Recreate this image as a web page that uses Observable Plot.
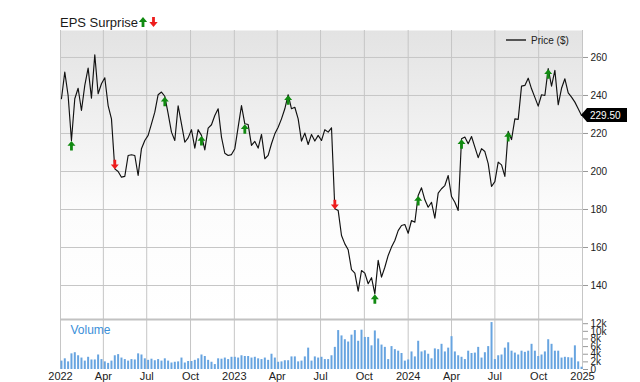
<!DOCTYPE html>
<html><head><meta charset="utf-8">
<script src="https://cdn.jsdelivr.net/npm/d3@7"></script>
<script src="https://cdn.jsdelivr.net/npm/@observablehq/plot@0.6"></script>
<style>
html,body{margin:0;padding:0;background:#fff;}
#wrap{position:relative;width:640px;height:382px;overflow:hidden;font-family:"Liberation Sans",Arial,sans-serif;}
#wrap svg.plotsvg{position:absolute;left:0;}
#title{position:absolute;left:60px;top:16px;font-size:13px;line-height:13px;color:#1a1a1a;white-space:nowrap;}
#title svg{vertical-align:baseline;}
#legend{position:absolute;left:506px;top:35px;font-size:10px;line-height:12px;color:#222;white-space:nowrap;}
#legend span.ln{display:inline-block;width:20px;height:2px;background:#555;vertical-align:middle;margin-right:5px;position:relative;top:-1px;}
</style></head>
<body><div id="wrap">
<div id="title">EPS Surprise<svg width="19" height="10" viewBox="0 0 19 10" style="margin-left:1px"><path d="M4,0 L8.2,5 L5.4,5 L5.4,10 L2.6,10 L2.6,5 L-0.2,5 Z" fill="#118a11"/><path d="M14.5,10 L18.7,5 L15.9,5 L15.9,0 L13.1,0 L13.1,5 L10.3,5 Z" fill="#ee1d1d"/></svg></div>
<div id="legend"><span class="ln"></span>Price ($)</div>
</div>
<script>
// ---- data (weekly, starting Monday 2022-01-03) ----
const weekStart = "2022-01-03";
const prices = [
238.3,252.3,240,216.3,238.3,243.8,232.1,245.3,254.4,238.6,261.4,240.9,246.2,
249.3,234.7,227.7,201.4,200,197,197.4,208.4,208.8,208.4,197.9,212,216.3,
219,225.1,231.2,240.4,241.8,239.6,230.4,220.7,216.3,234.6,225.1,215.4,217.7,
222,212.3,222,219,211.4,222.8,224.6,229.5,233,218.1,209.6,208.4,208.9,
212,223.3,234.7,225.1,224.7,213.7,215.8,212.3,219.5,206.7,208.5,214.6,219.8,
223.3,227.7,233,240.4,233,233.8,227.7,216,220.2,214.2,219.5,216,219,
216.3,222,220.7,223,180.4,179.5,166.3,161.9,158.8,148.3,146.5,137,147.9,
146.5,140.9,144.1,135.6,153.2,144.4,149.6,155.8,160.2,163.7,168.9,171.6,172.1,
167.5,174.2,173.3,187.4,191.4,185.1,181.2,183.8,175.4,188.6,190.9,192.6,197.9,
186.8,183.8,179.5,217.2,218.1,214.6,218.4,212.8,207.3,212,210.5,204.1,192.1,
194.7,204.9,203.5,197.4,221.1,216.8,227.7,227.4,244.9,245.3,249.1,243.5,239,
234.4,240.4,240,254.1,244.9,253.2,235.1,243.8,248.8,241.4,239.1,236.5,233,229.5
];
const volumesK = [
2.2,2.8,2.0,4.1,4.4,3.6,3.0,2.2,3.2,2.5,2.5,3.8,2.6,
2.0,1.6,2.2,3.6,3.9,3.0,2.6,2.2,2.6,2.5,4.1,3.8,2.8,
2.4,2.7,2.3,2.6,2.2,2.8,2.2,1.7,1.9,2.0,3.0,1.7,2.1,
2.1,2.4,2.8,3.8,3.4,2.4,1.9,1.3,2.8,2.7,3.0,2.6,3.2,
3.2,3.0,3.6,3.4,3.4,3.0,3.2,2.8,2.6,3.0,2.4,4.0,3.0,
1.9,2.0,2.3,2.3,3.3,3.3,2.0,2.2,3.3,5.6,2.2,3.3,3.0,
3.2,2.6,2.6,3.6,5.8,10.2,8.8,7.8,7.2,9.0,10.2,7.4,10.3,
8.4,8.4,6.2,10.1,8.0,6.4,5.8,2.6,6.0,5.2,4.8,4.2,2.2,
2.5,4.6,3.3,7.4,4.6,4.9,4.0,2.8,5.4,5.2,6.6,4.6,5.6,
8.6,4.6,3.6,3.2,2.6,4.8,4.2,4.3,5.8,3.0,4.4,6.0,12.3,
2.6,3.6,3.8,5.6,7.0,4.8,4.3,3.8,4.8,4.5,4.8,6.6,4.8,
3.4,3.8,4.6,7.8,6.6,4.8,4.8,3.0,3.2,3.1,3.0,6.2,2.0,
0.6
];
const epsDates = ["2022-01-24","2022-04-25","2022-08-08","2022-10-24","2023-01-23","2023-04-24",
                  "2023-07-31","2023-10-23","2024-01-22","2024-04-22","2024-07-29","2024-10-21"];
const epsBeat  = [true,false,true,true,true,true,false,true,true,true,true,true];
const priceTicks = [140,160,180,200,220,240,260];
const volumeTicks = [0,2,4,6,8,10,12];
const monthNames = ["Jan","Feb","Mar","Apr","May","Jun","Jul","Aug","Sep","Oct","Nov","Dec"];
const xStart = "2022-01-01", xEnd = "2025-01-01";

// ---- derived tables ----
const t0 = new Date(weekStart + "T00:00:00Z");
const weekDate = i => new Date(+t0 + i * 7 * 864e5);
const priceData = prices.map((p, i) => ({date: weekDate(i), price: p}));
const volData = volumesK.map((v, i) => ({date: weekDate(i), vol: v}));
const priceByTime = new Map(priceData.map(d => [+d.date, d.price]));
const epsData = epsDates.map((s, i) => {
  const d = new Date(s + "T00:00:00Z");
  return {date: d, price: priceByTime.get(+d), beat: epsBeat[i]};
});
const lastPrice = prices[prices.length - 1];
const xDomain = [new Date(xStart + "T00:00:00Z"), new Date(xEnd + "T00:00:00Z")];
const quarterTicks = d3.utcMonth.every(3).range(xDomain[0], new Date(+xDomain[1] + 864e5));
const fmtX = d => d.getUTCMonth() === 0 ? String(d.getUTCFullYear()) : monthNames[d.getUTCMonth()];

const upArrow = {draw(ctx) { // tip at origin, body below
  ctx.moveTo(0, 0.5); ctx.lineTo(4, 5.3); ctx.lineTo(1.4, 5.3); ctx.lineTo(1.4, 10);
  ctx.lineTo(-1.4, 10); ctx.lineTo(-1.4, 5.3); ctx.lineTo(-4, 5.3); ctx.closePath(); }};
const downArrow = {draw(ctx) { // tip at origin, body above
  ctx.moveTo(0, 0.5); ctx.lineTo(4, -4.3); ctx.lineTo(1.4, -4.3); ctx.lineTo(1.4, -9);
  ctx.lineTo(-1.4, -9); ctx.lineTo(-1.4, -4.3); ctx.lineTo(-4, -4.3); ctx.closePath(); }};

const FONT = "Liberation Sans, Arial, sans-serif";
const GRID = "#c6c6c6";

const gradientDefs = () => {
  const defs = d3.create("svg:defs");
  const g = defs.append("linearGradient").attr("id", "bgGrad")
    .attr("x1", 0).attr("x2", 0).attr("y1", 0).attr("y2", 1);
  g.append("stop").attr("offset", "0%").attr("stop-color", "#e3e3e3");
  g.append("stop").attr("offset", "62%").attr("stop-color", "#fcfcfc");
  g.append("stop").attr("offset", "100%").attr("stop-color", "#ffffff");
  return defs.node();
};

const priceTag = (index, scales, values, dims) => {
  const y = scales.y(lastPrice);
  const x = dims.width - dims.marginRight - 1;
  const g = d3.create("svg:g");
  g.append("path")
    .attr("d", `M${x},${y} L${x + 6},${y - 7} H${x + 46} V${y + 7} H${x + 6} Z`)
    .attr("fill", "#000");
  g.append("text").attr("x", x + 9).attr("y", y).attr("dy", "0.36em")
    .attr("text-anchor", "start")
    .attr("fill", "#fff").attr("font-size", 10).attr("font-family", FONT)
    .text(lastPrice.toFixed(2));
  return g.node();
};

const priceChart = Plot.plot({
  width: 640, height: 320,
  marginTop: 30, marginBottom: 1, marginLeft: 60, marginRight: 58,
  x: {type: "utc", domain: xDomain, axis: null},
  y: {domain: [122.1, 274.2], label: null},
  style: {fontFamily: FONT, fontSize: "10px", color: "#222", background: "transparent", overflow: "visible"},
  marks: [
    gradientDefs,
    Plot.frame({fill: "url(#bgGrad)", stroke: "none"}),
    Plot.gridY(priceTicks, {stroke: GRID, strokeOpacity: 1, strokeWidth: 1}),
    Plot.gridX(quarterTicks, {stroke: GRID, strokeOpacity: 1, strokeWidth: 1}),
    Plot.axisY(priceTicks, {anchor: "right", tickSize: 5, tickPadding: 3, stroke: "#999", fill: "#222", fontSize: 10, label: null}),
    Plot.line(priceData, {x: "date", y: "price", stroke: "#111", strokeWidth: 1.15}),
    Plot.dot(epsData.filter(d => d.beat), {x: "date", y: "price", symbol: upArrow, fill: "#118a11", stroke: "none", r: 4}),
    Plot.dot(epsData.filter(d => !d.beat), {x: "date", y: "price", symbol: downArrow, fill: "#ee1d1d", stroke: "none", r: 4}),
    priceTag
  ]
});

const volChart = Plot.plot({
  width: 640, height: 64,
  marginTop: 1, marginBottom: 13, marginLeft: 60, marginRight: 58,
  x: {type: "utc", domain: xDomain, label: null},
  y: {domain: [0, 13.1], label: null},
  style: {fontFamily: FONT, fontSize: "10px", color: "#222", background: "transparent", overflow: "visible"},
  marks: [
    Plot.gridX(quarterTicks, {stroke: GRID, strokeOpacity: 1, strokeWidth: 1}),
    Plot.ruleY([13.1], {stroke: "#c2c2c2", strokeWidth: 2}),
    Plot.ruleX(volData, {x: "date", y1: 0, y2: "vol", stroke: "#67a4e0", strokeWidth: 2}),
    Plot.axisY(volumeTicks, {anchor: "right", tickSize: 5, tickPadding: 3, stroke: "#999", fill: "#222", fontSize: 10,
      tickFormat: d => d === 0 ? "0" : d + "k", label: null}),
    Plot.axisX(quarterTicks, {tickSize: 0, tickPadding: 3, tickFormat: fmtX, fill: "#222", fontSize: 11, label: null}),
    Plot.text(["Volume"], {text: d => d, frameAnchor: "top-left", dx: 10, dy: 6, fill: "#3a8fd9", fontSize: 12})
  ]
});

const wrap = document.getElementById("wrap");
volChart.classList.add("plotsvg"); volChart.style.top = "318px";
priceChart.classList.add("plotsvg"); priceChart.style.top = "0px";
wrap.insertBefore(volChart, wrap.firstChild);
wrap.insertBefore(priceChart, wrap.firstChild);
</script>
</body></html>
